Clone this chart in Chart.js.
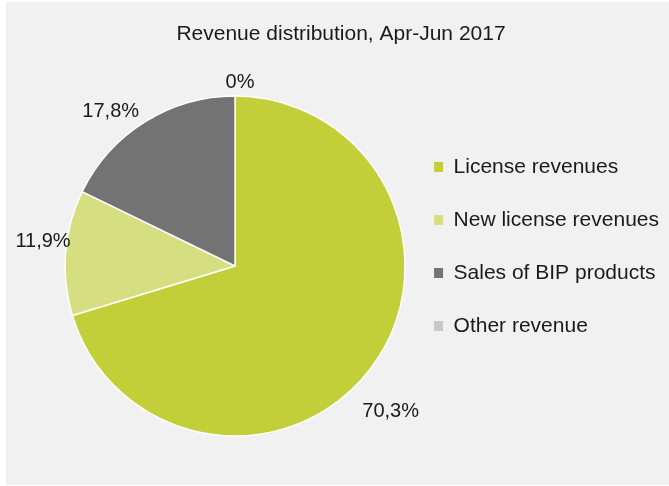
<!DOCTYPE html>
<html>
<head>
<meta charset="utf-8">
<script src="https://cdn.jsdelivr.net/npm/chart.js@4.4.1/dist/chart.umd.min.js"></script>
<style>
  html, body { margin: 0; background: #fff; }
  #wrap { position: absolute; left: 6px; top: 2px; width: 663px; height: 483px; background: #f1f1f1; }
</style>
</head>
<body>
<div id="wrap"><canvas id="revenueChart"></canvas></div>
<script>
(function () {
  'use strict';

  const chartTitle  = 'Revenue distribution, Apr-Jun 2017';
  const categories  = ['License revenues', 'New license revenues', 'Sales of BIP products', 'Other revenue'];
  const shares      = [70.3, 11.9, 17.8, 0];
  const sliceColors = ['#c3cf38', '#d6de82', '#737373', '#c8c8c8'];

  // small hand nudges so the outside labels sit where Excel put them
  const labelNudge = [[-7, 36], [9, -10], [-17, 1], [5, 0]];

  const FONT = '"Liberation Sans", Arial, sans-serif';
  const TEXT = '#1a1a1a';

  const formatShare = v => (Number.isInteger(v) ? String(v) : v.toFixed(1).replace('.', ',')) + '%';

  const outsideLabels = {
    id: 'outsideLabels',
    afterDatasetsDraw(chart) {
      const { ctx } = chart;
      const meta = chart.getDatasetMeta(0);
      ctx.save();
      ctx.font = '20px ' + FONT;
      ctx.fillStyle = TEXT;
      ctx.textAlign = 'center';
      ctx.textBaseline = 'middle';
      meta.data.forEach((arc, i) => {
        const { x, y, startAngle, endAngle, outerRadius } =
          arc.getProps(['x', 'y', 'startAngle', 'endAngle', 'outerRadius'], true);
        const mid = (startAngle + endAngle) / 2;
        const dx = Math.cos(mid), dy = Math.sin(mid);
        const text = formatShare(shares[i]);
        const hw = ctx.measureText(text).width / 2, hh = 10;
        const r = outerRadius + 4;
        const [nx, ny] = labelNudge[i];
        ctx.fillText(text, x + dx * (r + hw) + nx, y + dy * r + dy * hh + ny);
      });
      ctx.restore();
    }
  };

  new Chart(document.getElementById('revenueChart'), {
    type: 'pie',
    data: {
      labels: categories,
      datasets: [{
        data: shares,
        backgroundColor: sliceColors,
        borderColor: '#ffffff',
        borderWidth: 1.5,
        radius: 170
      }]
    },
    options: {
      responsive: true,
      maintainAspectRatio: false,
      animation: false,
      layout: { padding: { left: 7, right: 0, top: 6, bottom: 0 } },
      plugins: {
        title: {
          display: true,
          text: chartTitle,
          color: TEXT,
          font: { family: FONT, size: 21, weight: 'normal', lineHeight: 1 },
          padding: { top: 16, bottom: 2 }
        },
        // empty left box, only used as a spacer so the pie sits left of the title centre
        subtitle: {
          display: true,
          position: 'left',
          text: '',
          font: { size: 10, lineHeight: 1 },
          padding: { top: 45, bottom: 0 }
        },
        legend: {
          position: 'right',
          maxWidth: 400,
          labels: {
            boxWidth: 9,
            boxHeight: 10,
            padding: 32,
            color: TEXT,
            font: { family: FONT, size: 21 },
            generateLabels(chart) {
              return Chart.overrides.pie.plugins.legend.labels.generateLabels(chart)
                .map(l => Object.assign(l, { lineWidth: 0 }));
            }
          }
        },
        tooltip: { enabled: false }
      }
    },
    plugins: [outsideLabels]
  });
})();
</script>
</body>
</html>
